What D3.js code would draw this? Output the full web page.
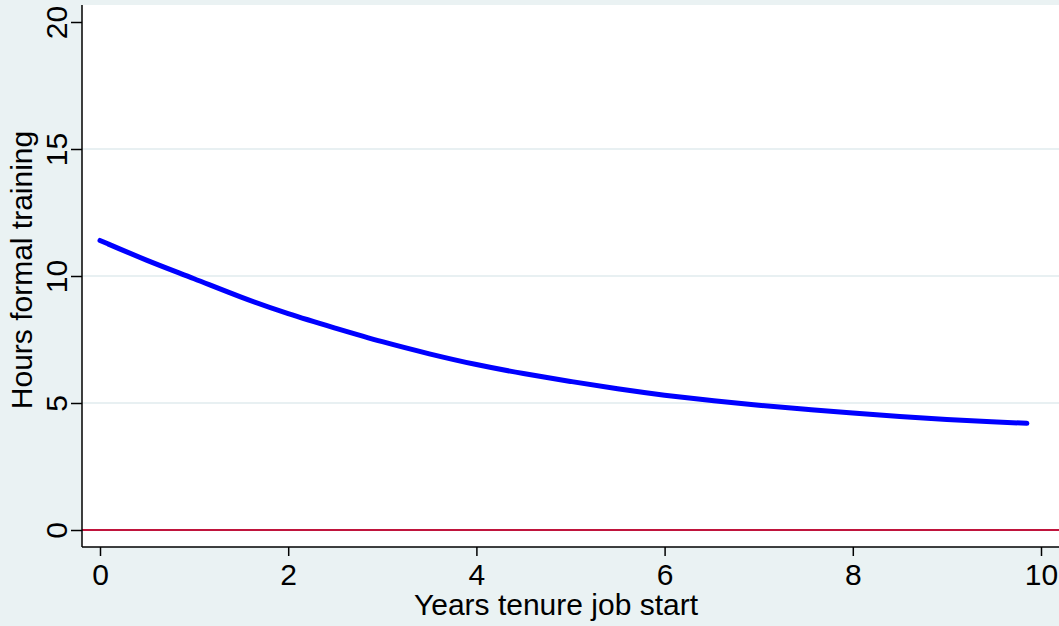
<!DOCTYPE html>
<html><head><meta charset="utf-8">
<script src="https://cdn.jsdelivr.net/npm/d3@7"></script>
<style>body{margin:0;background:#eaf2f3} svg{display:block}</style>
</head><body>
<svg id="chart" width="1059" height="626"></svg>
<script>
var tenure = [0, 0.5, 1, 1.5, 2, 2.5, 3, 3.5, 4, 4.5, 5, 5.5, 6, 6.5, 7, 7.5, 8, 8.5, 9, 9.5, 9.85];
var hours = [11.4, 10.6, 9.9, 9.15, 8.5, 7.95, 7.4, 6.93, 6.5, 6.15, 5.85, 5.55, 5.3, 5.1, 4.9, 4.75, 4.6, 4.47, 4.35, 4.26, 4.2];
var xTicks = [0, 2, 4, 6, 8, 10];
var yTicks = [0, 5, 10, 15, 20];

var font = 'Liberation Sans, Arial, sans-serif';
var svg = d3.select('#chart');
var pLeft = 82, pBottom = 547, pRight = 1059, pTop = 5;
var x = d3.scaleLinear().domain([0, 10]).range([100, 1041]);
var y = d3.scaleLinear().domain([0, 20]).range([530, 22]);

svg.append('rect').attr('width', 1059).attr('height', 626).style('fill', '#eaf2f3');
svg.append('rect').attr('x', pLeft).attr('y', pTop).attr('width', pRight - pLeft).attr('height', pBottom - pTop).style('fill', '#ffffff');

svg.append('g').selectAll('line').data([5, 10, 15]).join('line')
    .attr('x1', pLeft).attr('x2', pRight).attr('y1', d => y(d)).attr('y2', d => y(d))
    .attr('stroke', '#e8f0f2').attr('stroke-width', 2);

svg.append('line').attr('x1', pLeft).attr('x2', pRight).attr('y1', y(0)).attr('y2', y(0))
    .attr('stroke', '#c0143c').attr('stroke-width', 2);

var line = d3.line().x((d, i) => x(tenure[i])).y(d => y(d)).curve(d3.curveBasis);
svg.append('path').attr('d', line(hours)).attr('fill', 'none')
    .attr('stroke', '#0000ff').attr('stroke-width', 5).attr('stroke-linecap', 'round');

var xAxis = d3.axisBottom(x).tickValues(xTicks).tickSize(9).tickPadding(8);
var gx = svg.append('g').attr('transform', `translate(0,${pBottom})`).call(xAxis);
gx.select('.domain').remove();
gx.append('line').attr('x1', pLeft).attr('x2', pRight).attr('stroke', 'black').attr('stroke-width', 1.5);
gx.selectAll('text').style('font-size', '30px').style('font-family', font).attr('fill', 'black');
gx.selectAll('.tick line').attr('stroke-width', 1.5);

var yAxis = d3.axisLeft(y).tickValues(yTicks).tickSize(11);
var gy = svg.append('g').attr('transform', `translate(${pLeft},0)`).call(yAxis);
gy.select('.domain').remove();
gy.append('line').attr('y1', pTop).attr('y2', pBottom).attr('stroke', 'black').attr('stroke-width', 1.5);
gy.selectAll('.tick line').attr('stroke-width', 1.5);
gy.selectAll('text').style('font-size', '30px').style('font-family', font).attr('fill', 'black')
    .attr('x', 0).attr('dy', 0).attr('y', 0)
    .attr('text-anchor', 'middle')
    .attr('transform', 'translate(-25,0) rotate(-90) translate(0,10)');

svg.append('text').attr('x', 556).attr('y', 615).attr('text-anchor', 'middle')
    .style('font-size', '30px').style('font-family', font).text('Years tenure job start');
svg.append('text').attr('transform', 'translate(32,270) rotate(-90)').attr('text-anchor', 'middle')
    .style('font-size', '30px').style('font-family', font).text('Hours formal training');
</script>
</body></html>
